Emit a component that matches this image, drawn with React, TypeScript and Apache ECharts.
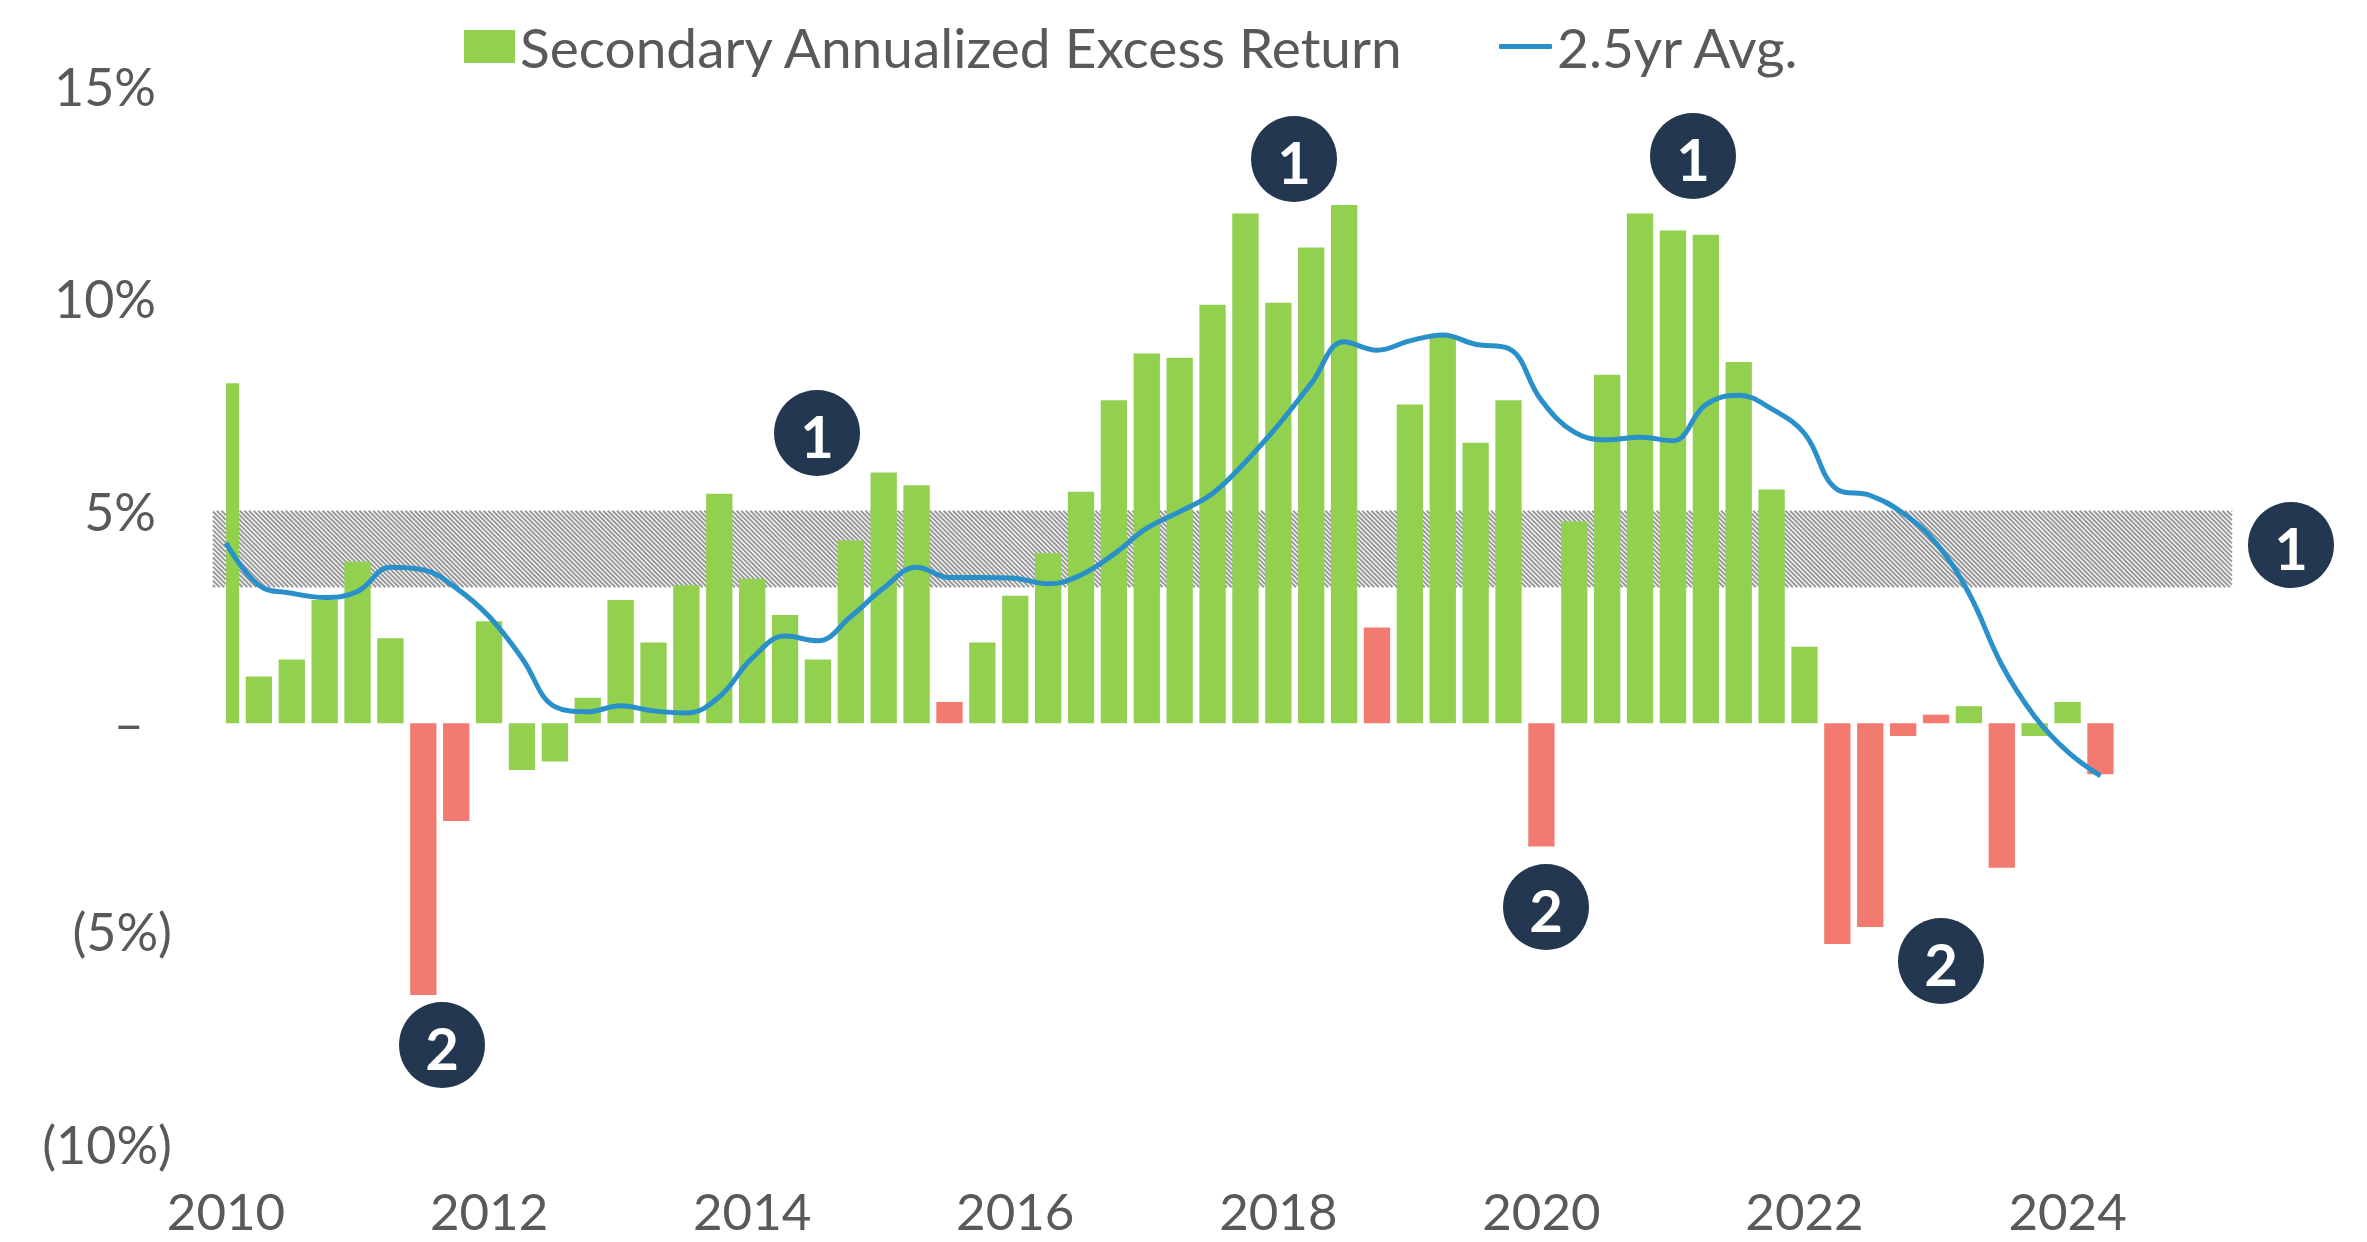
import React, { useEffect, useRef } from "react";
import * as echarts from "echarts";

// ---------- data ----------
const years: number[] = [2010, 2011, 2012, 2013, 2014, 2015, 2016, 2017, 2018, 2019, 2020, 2021, 2022, 2023, 2024, 2025];
const quarterNames: string[] = ["Q1", "Q2", "Q3", "Q4"];
const lastCategory = "2025 Q2";

// Secondary annualized excess return, quarterly from 2010 Q1 (%)
const excessReturn: number[] = [
  8.0, 1.1, 1.5, 2.9, 3.8, 2.0, -6.4, -2.3,
  2.4, -1.1, -0.9, 0.6, 2.9, 1.9, 3.25, 5.4,
  3.4, 2.55, 1.5, 4.3, 5.9, 5.6, 0.5, 1.9,
  3.0, 4.0, 5.45, 7.6, 8.7, 8.6, 9.85, 12.0,
  9.9, 11.2, 12.2, 2.25, 7.5, 9.1, 6.6, 7.6,
  -2.9, 4.75, 8.2, 12.0, 11.6, 11.5, 8.5, 5.5,
  1.8, -5.2, -4.8, -0.3, 0.2, 0.4, -3.4, -0.3,
  0.5, -1.2,
];

// Quarters whose bar is highlighted in red
const redQuarters: string[] = [
  "2011 Q3", "2011 Q4", "2015 Q3", "2018 Q4", "2020 Q1",
  "2022 Q2", "2022 Q3", "2022 Q4", "2023 Q1", "2023 Q3", "2024 Q2",
];

// 2.5yr average (%)
const avg25yr: number[] = [
  4.24, 3.25, 3.06, 2.96, 3.1, 3.67, 3.61, 3.18,
  2.51, 1.53, 0.39, 0.27, 0.41, 0.29, 0.24, 0.62,
  1.53, 2.05, 1.94, 2.51, 3.18, 3.67, 3.43, 3.43,
  3.41, 3.28, 3.49, 3.98, 4.59, 4.98, 5.41, 6.15,
  7.02, 8.0, 8.98, 8.78, 9.0, 9.14, 8.92, 8.82,
  7.6, 6.85, 6.67, 6.73, 6.65, 7.5, 7.72, 7.4,
  6.82, 5.5, 5.36, 4.94, 4.24, 3.06, 1.37, 0.16,
  -0.67, -1.24,
];

// Target band (%): low, high
const targetBand: number[] = [3.2, 5.0];

const yTicks = { min: -10, max: 15, interval: 5 };

const seriesNames = ["Secondary Annualized Excess Return", "2.5yr Avg."];

// Annotation badges (label, pixel layout)
const badgeLabels: string[] = ["1", "1", "1", "1", "2", "2", "2"];
const badgeLayout: number[][] = [
  [817, 433], [1294, 159], [1693, 156], [2291, 545],
  [442, 1045], [1546, 907], [1941, 961],
];

// ---------- styles ----------
const GREEN = "#92D050";
const RED = "#F27A71";
const BLUE = "#2A90CA";
const NAVY = "#243750";
const TEXT = "#595959";
const HATCH = "#9A9A9A";
const FONT = "Lato, 'Noto Sans', sans-serif";
const BAR_FRACTION = 0.8;
const HATCH_PERIOD = 4.6;

function hatchLines(xo: number, y0: number, y1: number, xa: number, xb: number) {
  const h = y1 - y0;
  const out: any[] = [];
  const n = Math.ceil((xo - (xa - h)) / HATCH_PERIOD) + 1;
  for (let s = xo - n * HATCH_PERIOD; s < xb; s += HATCH_PERIOD) {
    let ax = s, ay = y0, bx = s + h, by = y1;
    if (ax < xa) { ay = y0 + (xa - ax); ax = xa; }
    if (bx > xb) { by = y1 - (bx - xb); bx = xb; }
    if (bx <= ax) continue;
    out.push({
      type: "line",
      shape: { x1: ax, y1: ay, x2: bx, y2: by },
      style: { stroke: HATCH, lineWidth: 2 },
    });
  }
  return out;
}

export default function App() {
  const ref = useRef<HTMLDivElement>(null);

  useEffect(() => {
    if (!ref.current) return;
    const chart = echarts.init(ref.current, undefined, { renderer: "svg" });

    const categories: string[] = [];
    outer: for (const y of years) {
      for (const q of quarterNames) {
        const c = `${y} ${q}`;
        categories.push(c);
        if (c === lastCategory) break outer;
      }
    }

    const barData = excessReturn.map((v, i) => {
      const isRed = redQuarters.indexOf(categories[i]) >= 0;
      return isRed ? { value: v, itemStyle: { color: RED } } : { value: v };
    });

    const lastIdx = categories.length - 1;

    const bandGeom = (api: any) => {
      const p0 = api.coord([0, targetBand[1]]);
      const p1 = api.coord([lastIdx, targetBand[0]]);
      const step = api.coord([1, 0])[0] - api.coord([0, 0])[0];
      const half = (step * BAR_FRACTION) / 2;
      return { x0: p0[0], y0: p0[1], x1: p1[0], y1: p1[1], xL: p0[0] - half };
    };

    // hatch band below the bars
    const hatchRender = (_params: any, api: any) => {
      const g = bandGeom(api);
      return { type: "group", children: hatchLines(g.x0, g.y0, g.y1, g.xL, g.x1) };
    };

    // left strip above the bars: hides the left half of the first bar
    const stripRender = (_params: any, api: any) => {
      const g = bandGeom(api);
      const top = api.coord([0, yTicks.max])[1];
      const bottom = api.coord([0, yTicks.min])[1];
      return {
        type: "group",
        children: [
          {
            type: "rect",
            shape: { x: g.xL - 1, y: top, width: g.x0 - g.xL + 1, height: bottom - top },
            style: { fill: "#FFFFFF" },
          },
          ...hatchLines(g.x0, g.y0, g.y1, g.xL, g.x0),
        ],
      };
    };

    const graphics: any[] = badgeLabels.map((t, i) => ({
      type: "group",
      x: badgeLayout[i][0],
      y: badgeLayout[i][1],
      z: 100,
      children: [
        { type: "circle", shape: { cx: 0, cy: 0, r: 43 }, style: { fill: NAVY } },
        {
          type: "text",
          style: {
            text: t, x: 0, y: 2, align: "center", verticalAlign: "middle",
            fill: "#FFFFFF", fontSize: 58, fontWeight: "bold", fontFamily: FONT,
          },
        },
      ],
    }));

    const axisText = { color: TEXT, fontSize: 52, fontFamily: FONT };
    const legendText = { color: TEXT, fontSize: 55, fontFamily: FONT, padding: [0, 0, 12, 0] };

    chart.setOption({
      animation: false,
      backgroundColor: "#FFFFFF",
      textStyle: { fontFamily: FONT },
      legend: [
        {
          data: [seriesNames[0]],
          left: 459, top: 14, itemWidth: 51, itemHeight: 33, icon: "rect",
          textStyle: legendText,
          selectedMode: false,
        },
        {
          data: [seriesNames[1]],
          left: 1494, top: 14, itemWidth: 53, itemHeight: 5, icon: "roundRect",
          textStyle: legendText,
          selectedMode: false,
        },
      ],
      grid: { left: 226, right: 135, top: 86, bottom: 94, containLabel: false },
      xAxis: {
        type: "category",
        data: categories,
        boundaryGap: false,
        axisLine: { show: false },
        axisTick: { show: false },
        splitLine: { show: false },
        axisLabel: {
          color: TEXT,
          fontFamily: FONT,
          fontSize: 51,
          lineHeight: 48,
          interval: 7,
          margin: 38,
          formatter: (v: string) => v.split(" ")[0],
        },
      },
      yAxis: {
        type: "value",
        min: yTicks.min,
        max: yTicks.max,
        interval: yTicks.interval,
        axisLine: { show: false },
        axisTick: { show: false },
        splitLine: { show: false },
        axisLabel: {
          margin: 54,
          formatter: (v: number) =>
            v === 0 ? "{z|–}" : v < 0 ? `{n|(${-v}%)}` : `{p|${v}%}`,
          rich: {
            p: { ...axisText, padding: [0, 16, 0, 0] },
            n: { ...axisText, padding: [0, 0, 9, 0] },
            z: { ...axisText, padding: [0, 28, 0, 0] },
          },
        },
      },
      series: [
        {
          type: "custom",
          name: "band",
          silent: true,
          z: 1,
          renderItem: hatchRender,
          data: [[0, targetBand[0]]],
          clip: false,
        },
        {
          type: "bar",
          name: seriesNames[0],
          data: barData,
          barWidth: `${BAR_FRACTION * 100}%`,
          itemStyle: { color: GREEN },
          z: 2,
        },
        {
          type: "custom",
          name: "strip",
          silent: true,
          z: 3,
          renderItem: stripRender,
          data: [[0, targetBand[0]]],
          clip: false,
        },
        {
          type: "line",
          name: seriesNames[1],
          data: avg25yr,
          smooth: 0.4,
          showSymbol: false,
          symbol: "none",
          lineStyle: { color: BLUE, width: 5 },
          itemStyle: { color: BLUE },
          z: 4,
        },
      ],
      graphic: graphics,
    });

    return () => chart.dispose();
  }, []);

  return (
    <div
      ref={ref}
      style={{ position: "fixed", left: 0, top: 0, width: 2367, height: 1242, background: "#fff" }}
    />
  );
}
